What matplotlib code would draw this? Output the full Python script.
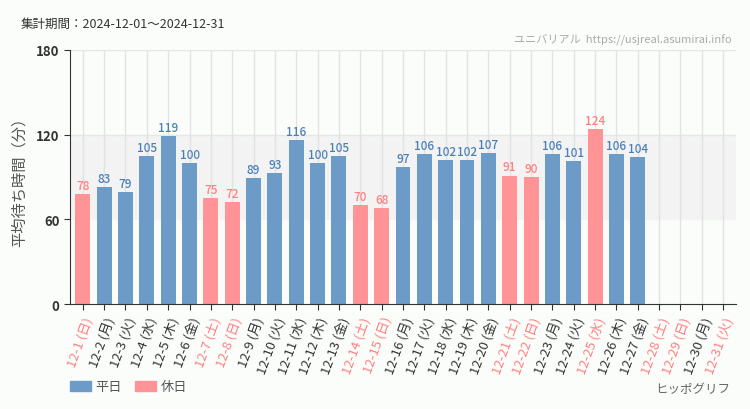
import matplotlib.pyplot as plt
import numpy as np

plt.rcParams['font.family'] = ['Noto Sans CJK JP', 'DejaVu Sans']

days = list(range(1, 32))
weekdays = ['日', '月', '火', '水', '木', '金', '土', '日', '月', '火', '水', '木', '金', '土', '日',
            '月', '火', '水', '木', '金', '土', '日', '月', '火', '水', '木', '金', '土', '日', '月', '火']
waits = [78, 83, 79, 105, 119, 100, 75, 72, 89, 93, 116, 100, 105, 70, 68,
         97, 106, 102, 102, 107, 91, 90, 106, 101, 124, 106, 104, None, None, None, None]
holidays = [1, 7, 8, 14, 15, 21, 22, 25, 28, 29, 31]

blue = '#6b9bc6'
pink = '#ff9396'
blue_txt = '#4a80b8'
pink_txt = '#ff7f80'
bg = '#fbfdfb'

fig = plt.figure(figsize=(7.5, 4.1), dpi=100, facecolor=bg)
ax = fig.add_axes([0.0933, 0.256, 0.888, 0.62])
ax.set_facecolor(bg)

x = np.arange(len(days))
ax.axhspan(60, 120, color='#f2f3f2', zorder=0)
for xi in x:
    ax.axvline(xi, color='#e2e2e2', lw=1, zorder=0.5)
ax.axhline(120, color='#e6e6e6', lw=1, zorder=0.5)
ax.axhline(180, color='#e6e6e6', lw=1, zorder=0.5)

for xi, d, v in zip(x, days, waits):
    if v is None:
        continue
    hol = d in holidays
    ax.bar(xi, v, width=0.7, color=pink if hol else blue, zorder=2)
    ax.text(xi, v + 1.5, str(v), ha='center', va='bottom', fontsize=8.5, fontweight='medium',
            color=pink_txt if hol else blue_txt, zorder=3)

ax.set_xlim(-0.6, len(days) - 0.4)
ax.set_ylim(0, 180)
ax.set_yticks([0, 60, 120, 180])
ax.set_yticklabels(['0', '60', '120', '180'], fontsize=9.5, color='#333333', fontweight='bold')
ax.set_xticks(x)
labels = [f'12-{d} ({w})' for d, w in zip(days, weekdays)]
ax.set_xticklabels(labels, rotation=70, ha='right', rotation_mode='anchor', fontsize=9.5)
for lab, d in zip(ax.get_xticklabels(), days):
    lab.set_color(pink_txt if d in holidays else '#333333')
ax.tick_params(axis='both', length=4, color='#333333')

for s in ['top', 'right']:
    ax.spines[s].set_visible(False)
ax.spines['left'].set_color('#333333')
ax.spines['bottom'].set_color('#333333')

ax.set_ylabel('平均待ち時間（分）', fontsize=11, color='#555555', labelpad=6)

fig.text(0.027, 0.925, '集計期間：2024-12-01～2024-12-31', fontsize=9, color='#333333', va='bottom')
fig.text(0.975, 0.89, 'ユニバリアル  https://usjreal.asumirai.info', fontsize=8,
         color='#aaaaaa', ha='right', va='bottom')
fig.text(0.973, 0.05, 'ヒッポグリフ', fontsize=9, color='#666666', ha='right', va='center')

# legend
fig.patches.append(plt.Rectangle((0.093, 0.044), 0.028, 0.025, color=blue, transform=fig.transFigure))
fig.text(0.127, 0.056, '平日', fontsize=9.5, color='#555555', va='center')
fig.patches.append(plt.Rectangle((0.18, 0.044), 0.028, 0.025, color=pink, transform=fig.transFigure))
fig.text(0.214, 0.056, '休日', fontsize=9.5, color='#555555', va='center')

fig.savefig('out.png', dpi=100, facecolor=bg)
